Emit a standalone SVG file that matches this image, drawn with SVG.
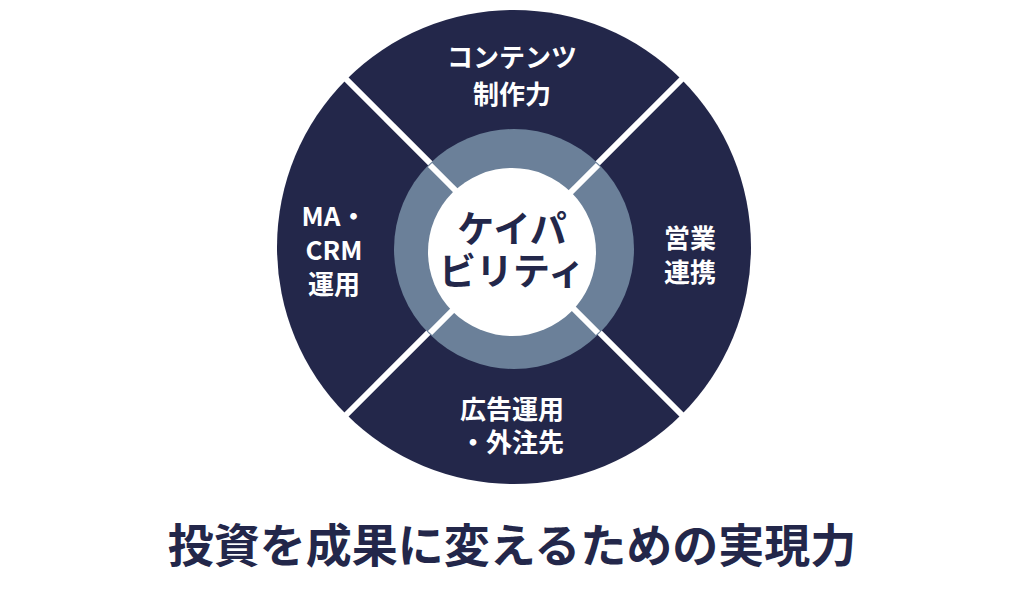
<svg xmlns="http://www.w3.org/2000/svg" width="1024" height="598" viewBox="0 0 1024 598">
<style>
.w{fill:#fff;font-family:"Noto Sans CJK JP","Noto Sans",sans-serif;font-weight:bold;font-size:26px;text-anchor:middle}
.c{fill:#23274a;font-family:"Noto Sans CJK JP",sans-serif;font-weight:bold;font-size:37px;text-anchor:middle}
</style>
<rect width="1024" height="598" fill="#fff"/>
<g id="outer"><circle cx="514" cy="247" r="237" fill="#23274a"/></g>
<g id="connectors" stroke="#fff" stroke-width="6">
<line x1="346" y1="79" x2="682" y2="415"/>
<line x1="682" y1="79" x2="346" y2="415"/>
</g>
<g id="ring"><circle cx="514" cy="249" r="120" fill="#6b8099"/></g>
<g id="lines-inner" stroke="#fff" stroke-width="6">
<line x1="430" y1="165" x2="598" y2="333"/>
<line x1="598" y1="165" x2="430" y2="333"/>
</g>
<g id="center"><circle cx="512" cy="252" r="84" fill="#fff"/>
<text class="c" x="512" y="243">ケイパ</text><text class="c" x="512" y="285">ビリティ</text></g>
<g id="top"><text class="w" x="512" y="67">コンテンツ</text><text class="w" x="512" y="104">制作力</text></g>
<g id="left"><text class="w" x="334" y="226">MA・</text><text class="w" x="334" y="260">CRM</text><text class="w" x="334" y="294">運用</text></g>
<g id="right"><text class="w" x="690" y="248">営業</text><text class="w" x="690" y="282">連携</text></g>
<g id="bottom"><text class="w" x="512" y="419">広告運用</text><text class="w" x="512" y="452">・外注先</text></g>
<text x="512" y="562" fill="#23274a" font-family="Noto Sans CJK JP,sans-serif" font-weight="bold" font-size="46" text-anchor="middle">投資を成果に変えるための実現力</text>
</svg>
